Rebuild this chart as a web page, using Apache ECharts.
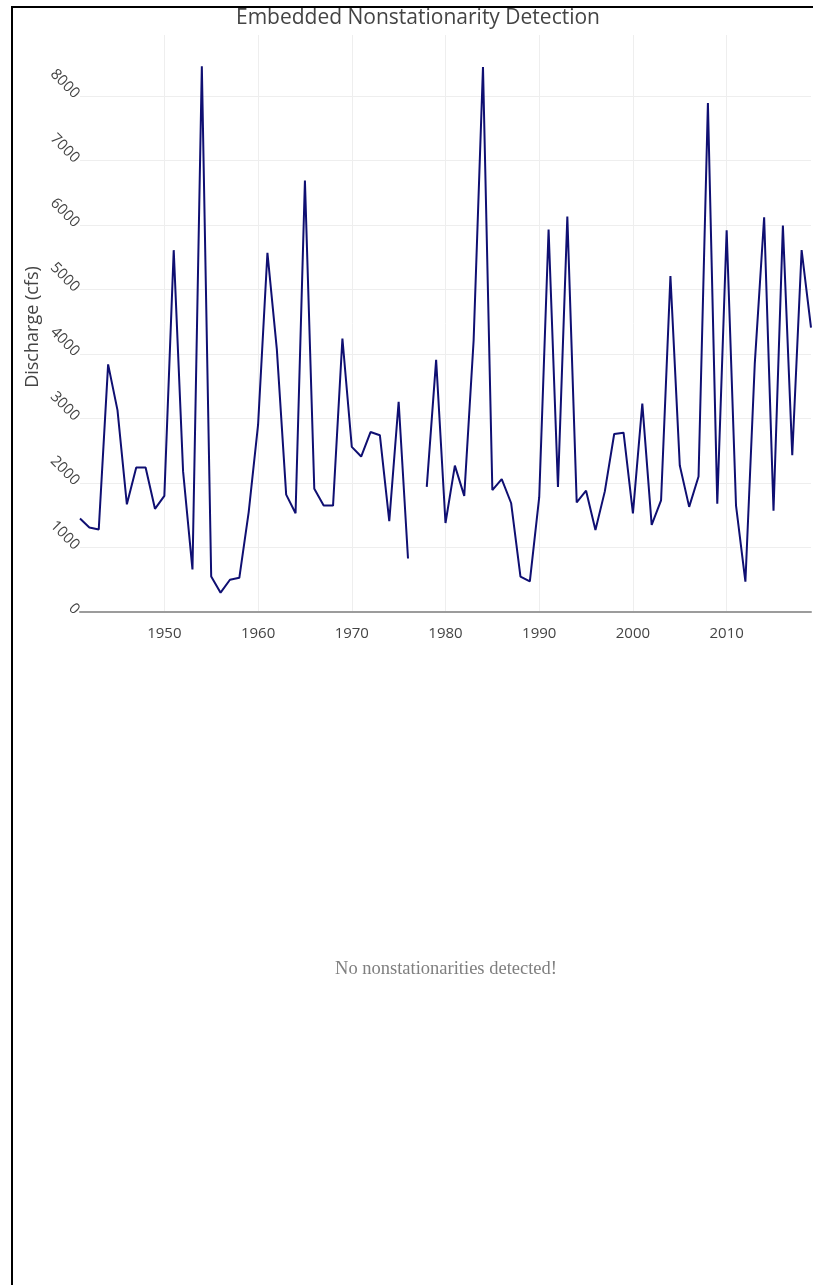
<!DOCTYPE html>
<html>
<head>
<meta charset="utf-8">
<script src="https://cdn.jsdelivr.net/npm/echarts@6/dist/echarts.min.js"></script>
<style>
  html, body { margin: 0; padding: 0; background: #fff; }
  #chart { width: 813px; height: 1285px; }
</style>
</head>
<body>
<div id="chart"></div>
<script>
// Annual peak discharge record
const years = [
  1941, 1942, 1943, 1944, 1945, 1946, 1947, 1948, 1949, 1950,
  1951, 1952, 1953, 1954, 1955, 1956, 1957, 1958, 1959, 1960,
  1961, 1962, 1963, 1964, 1965, 1966, 1967, 1968, 1969, 1970,
  1971, 1972, 1973, 1974, 1975, 1976, 1977, 1978, 1979, 1980,
  1981, 1982, 1983, 1984, 1985, 1986, 1987, 1988, 1989, 1990,
  1991, 1992, 1993, 1994, 1995, 1996, 1997, 1998, 1999, 2000,
  2001, 2002, 2003, 2004, 2005, 2006, 2007, 2008, 2009, 2010,
  2011, 2012, 2013, 2014, 2015, 2016, 2017, 2018, 2019
];
const discharge = [
  1450, 1310, 1280, 3840, 3130, 1670, 2240, 2240, 1600, 1800,
  5610, 2180, 660, 8460, 550, 300, 500, 530, 1550, 2900,
  5570, 4080, 1820, 1530, 6690, 1910, 1650, 1650, 4240, 2560,
  2410, 2790, 2740, 1410, 3260, 830, null, 1940, 3910, 1380,
  2270, 1800, 4210, 8450, 1890, 2060, 1690, 550, 475, 1780,
  5930, 1940, 6130, 1700, 1880, 1270, 1870, 2760, 2780, 1530,
  3230, 1350, 1730, 5210, 2270, 1630, 2100, 7890, 1680, 5920,
  1650, 470, 3850, 6120, 1570, 5990, 2430, 5610, 4410
];
const xTicks = [1950, 1960, 1970, 1980, 1990, 2000, 2010];
const yTicks = [0, 1000, 2000, 3000, 4000, 5000, 6000, 7000, 8000];

const titleText = 'Embedded Nonstationarity Detection';
const yAxisTitle = 'Discharge (cfs)';
const emptyMessage = 'No nonstationarities detected!';

const seriesData = years.map((y, i) => [y, discharge[i]]);

const chart = echarts.init(document.getElementById('chart'), null, { renderer: 'canvas' });

const font = '"Open Sans", "DejaVu Sans", sans-serif';
const plain = v => String(v);

chart.setOption({
  animation: false,
  backgroundColor: '#ffffff',
  grid: { left: 80, right: 2, top: 35, bottom: 673, containLabel: false },
  xAxis: {
    type: 'value',
    min: 1941,
    max: 2019,
    axisLine: { show: true, onZero: false, lineStyle: { color: '#9c9c9c', width: 2 } },
    axisTick: { show: false, customValues: xTicks },
    axisLabel: {
      customValues: xTicks,
      formatter: plain,
      color: '#444', fontSize: 15, fontFamily: font, margin: 14
    },
    splitLine: { show: true, lineStyle: { color: '#eeeeee', width: 1 } }
  },
  yAxis: {
    type: 'value',
    min: 0,
    max: 8946,
    axisLine: { show: false },
    axisTick: { show: false, customValues: yTicks },
    axisLabel: {
      customValues: yTicks,
      formatter: plain,
      rotate: -45,
      color: '#444', fontSize: 15, fontFamily: font, margin: 3
    },
    splitLine: { show: true, lineStyle: { color: '#eeeeee', width: 1 } }
  },
  series: [{
    type: 'line',
    data: seriesData,
    showSymbol: false,
    connectNulls: false,
    lineStyle: { color: '#0f0f72', width: 2 },
    itemStyle: { color: '#0f0f72' }
  }],
  graphic: [
    {
      type: 'text',
      x: 418, y: 18,
      style: {
        text: titleText, fill: '#444', font: '21px ' + font,
        textAlign: 'center', textVerticalAlign: 'middle'
      }
    },
    {
      // y-axis title, rotated to read bottom-to-top
      type: 'text',
      x: 33, y: 327,
      rotation: Math.PI / 2,
      style: {
        text: yAxisTitle, fill: '#444', font: '18px ' + font,
        textAlign: 'center', textVerticalAlign: 'middle'
      }
    },
    {
      type: 'text',
      x: 446, y: 969,
      style: {
        text: emptyMessage, fill: '#7f7f7f',
        font: '18.5px "Liberation Serif", "Times New Roman", serif',
        textAlign: 'center', textVerticalAlign: 'middle'
      }
    },
    { type: 'rect', shape: { x: 11, y: 6, width: 2, height: 1279 }, style: { fill: '#000' } },
    { type: 'rect', shape: { x: 11, y: 6, width: 802, height: 2 }, style: { fill: '#000' } }
  ]
});
</script>
</body>
</html>
